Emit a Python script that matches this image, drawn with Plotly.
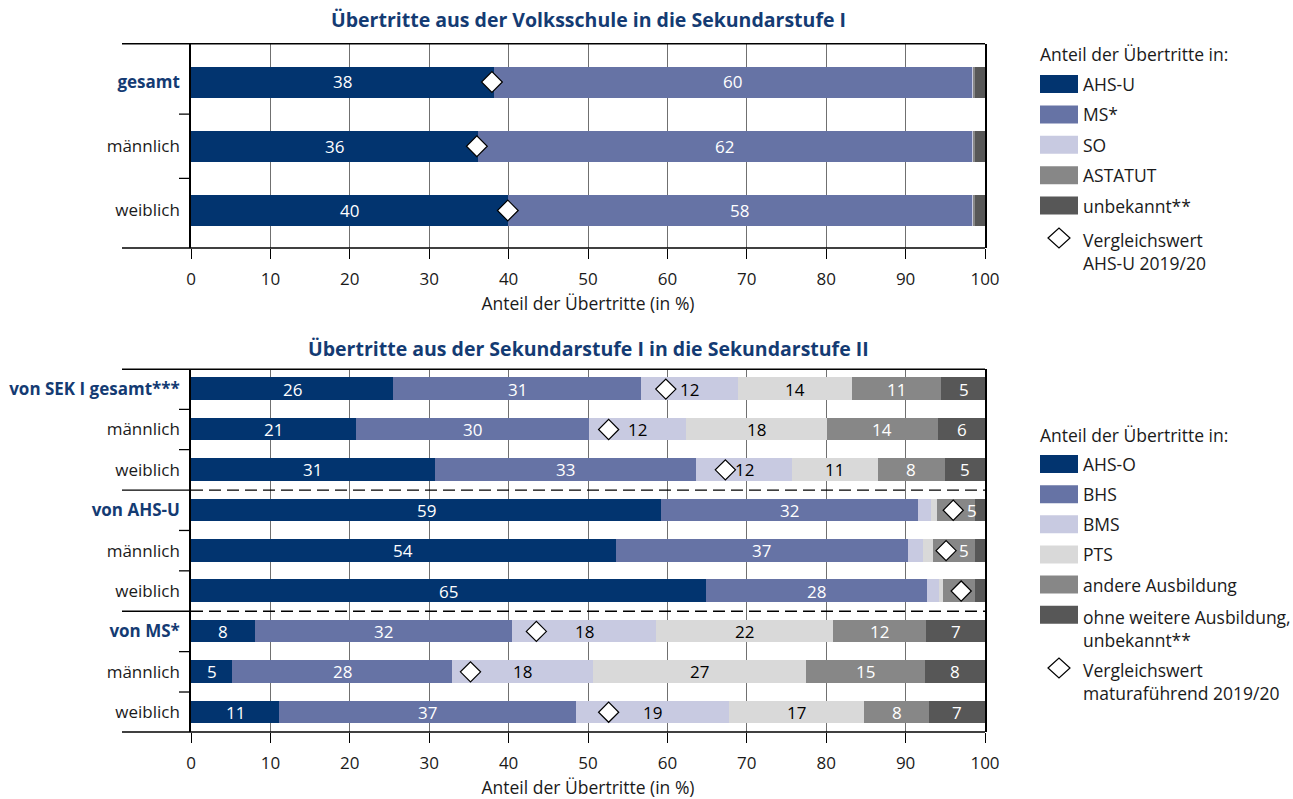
import plotly.graph_objects as go

# ---------------- data ----------------
cats_top = ["gesamt", "männlich", "weiblich"]
cats_top_bold = [True, False, False]
ahs_u = [38.1, 36.2, 39.9]
ms = [60.2, 62.1, 58.4]
so = [0.3, 0.3, 0.3]
astatut = [0.15, 0.15, 0.15]
unbekannt = [1.25, 1.25, 1.25]
ahs_u_lbl = ["38", "36", "40"]
ms_lbl = ["60", "62", "58"]
empty3 = ["", "", ""]
vergleich_top = [37.9, 36.0, 39.9]

cats_bot = ["von SEK I gesamt***", "männlich", "weiblich",
            "von AHS-U", "männlich", "weiblich",
            "von MS*", "männlich", "weiblich"]
cats_bot_bold = [True, False, False, True, False, False, True, False, False]
ahs_o = [25.5, 20.75, 30.7, 59.2, 53.5, 64.8, 8.1, 5.2, 11.1]
bhs = [31.2, 29.4, 32.9, 32.4, 36.8, 27.9, 32.3, 27.7, 37.4]
bms = [12.2, 12.2, 12.1, 1.6, 1.9, 1.45, 18.2, 17.7, 19.2]
pts = [14.4, 17.7, 10.8, 0.7, 1.2, 0.5, 22.3, 26.8, 17.1]
andere = [11.2, 14.0, 8.4, 4.9, 5.4, 4.1, 11.7, 15.0, 8.2]
ohne = [5.6, 6.0, 5.1, 1.2, 1.2, 1.2, 7.4, 7.6, 7.0]
ahs_o_lbl = ["26", "21", "31", "59", "54", "65", "8", "5", "11"]
bhs_lbl = ["31", "30", "33", "32", "37", "28", "32", "28", "37"]
bms_lbl = ["12", "12", "12", "", "", "", "18", "18", "19"]
pts_lbl = ["14", "18", "11", "", "", "", "22", "27", "17"]
andere_lbl = ["11", "14", "8", "5", "5", "", "12", "15", "8"]
ohne_lbl = ["5", "6", "5", "", "", "", "7", "8", "7"]
vergleich_bot = [59.8, 52.6, 67.3, 96.0, 95.1, 97.0, 43.5, 35.2, 52.6]

x_ticks = [0, 10, 20, 30, 40, 50, 60, 70, 80, 90, 100]
title_top = "Übertritte aus der Volksschule in die Sekundarstufe I"
title_bot = "Übertritte aus der Sekundarstufe I in die Sekundarstufe II"
axis_title = "Anteil der Übertritte (in %)"
legend_title = "Anteil der Übertritte in:"
legend_top = ["AHS-U", "MS*", "SO", "ASTATUT", "unbekannt**"]
legend_top_diamond = "Vergleichswert<br>AHS-U 2019/20"
legend_bot = ["AHS-O", "BHS", "BMS", "PTS", "andere Ausbildung",
              "ohne weitere Ausbildung,<br>unbekannt**"]
legend_bot_diamond = "Vergleichswert<br>maturaführend 2019/20"

# ---------------- style ----------------
W, H = 1293, 799
FONT = "'Open Sans', Lato, sans-serif"
NAVY_TXT = "#143b73"
TXT = "#1a1a1a"
C_NAVY = "#02346f"
C_MID = "#6673a5"
C_LIGHT = "#c8cae1"
C_PTS = "#d9d9d9"
C_GREY = "#878787"
C_DARK = "#575757"
colors_top = [C_NAVY, C_MID, C_LIGHT, C_GREY, C_DARK]
colors_bot = [C_NAVY, C_MID, C_LIGHT, C_PTS, C_GREY, C_DARK]
txtcol_bot = ["white", "white", "black", "black", "white", "white"]
txtcol_top = ["white", "white", "black", "white", "white"]

PX0, PX1 = 191, 985          # plot x extent (px)
LEFT_EXT = 122               # left end of box lines (px)
TOP_Y0, TOP_Y1 = 43.7, 248   # top chart domain (px from top)
BOT_Y0, BOT_Y1 = 369.3, 732  # bottom chart domain


def px(x):
    return x / W


def py(y):
    return 1 - y / H


fig = go.Figure()

# ---------------- bars ----------------
series_top = [ahs_u, ms, so, astatut, unbekannt]
labels_top = [ahs_u_lbl, ms_lbl, empty3, empty3, empty3]
ytop = list(range(len(cats_top)))
for vals, col, name in zip(series_top, colors_top, legend_top):
    fig.add_trace(go.Bar(x=vals, y=ytop, orientation="h", marker=dict(color=col, line=dict(width=0)),
                         width=0.48, name=name, showlegend=False, xaxis="x", yaxis="y",
                         hoverinfo="x+name"))

series_bot = [ahs_o, bhs, bms, pts, andere, ohne]
labels_bot = [ahs_o_lbl, bhs_lbl, bms_lbl, pts_lbl, andere_lbl, ohne_lbl]
ybot = list(range(len(cats_bot)))
for vals, col, name in zip(series_bot, colors_bot, legend_bot):
    fig.add_trace(go.Bar(x=vals, y=ybot, orientation="h", marker=dict(color=col, line=dict(width=0)),
                         width=0.56, name=name.replace("<br>", " "), showlegend=False,
                         xaxis="x2", yaxis="y2", hoverinfo="x+name"))

# diamonds
fig.add_trace(go.Scatter(x=vergleich_top, y=ytop, mode="markers", xaxis="x", yaxis="y",
                         marker=dict(symbol="diamond", size=16, color="white",
                                     line=dict(color="black", width=1.2)),
                         showlegend=False, hoverinfo="x"))
fig.add_trace(go.Scatter(x=vergleich_bot, y=ybot, mode="markers", xaxis="x2", yaxis="y2",
                         marker=dict(symbol="diamond", size=15.5, color="white",
                                     line=dict(color="black", width=1.2)),
                         showlegend=False, hoverinfo="x"))

annotations = []


def add_segment_labels(series, labels, txtcols, diamonds, xref, yref):
    n = len(series[0])
    for r in range(n):
        cum = 0.0
        for s, (vals, lbls) in enumerate(zip(series, labels)):
            start, end = cum, cum + vals[r]
            cum = end
            t = lbls[r]
            if not t:
                continue
            xm = (start + end) / 2
            d = diamonds[r]
            if start < d < end - 1.5:
                xm = max(xm, d + 2.3)
            annotations.append(dict(x=xm, y=r, xref=xref, yref=yref, text=t, showarrow=False,
                                    font=dict(family=FONT, size=17, color=txtcols[s]),
                                    xanchor="center", yanchor="middle"))


add_segment_labels(series_top, labels_top, txtcol_top, vergleich_top, "x", "y")
add_segment_labels(series_bot, labels_bot, txtcol_bot, vergleich_bot, "x2", "y2")


def cat_text(labels, bold):
    out = []
    for l, b in zip(labels, bold):
        out.append(f"<span style='color:{NAVY_TXT}'><b>{l}</b></span>" if b else l)
    return out


# ---------------- axes ----------------
xcommon = dict(range=[0, 100], tickmode="array", tickvals=x_ticks, ticks="outside", ticklen=10,
               tickwidth=1.2, tickcolor="black", showgrid=True, gridcolor="#707070", gridwidth=1,
               zeroline=False, showline=False, fixedrange=True, automargin=False,
               ticklabelstandoff=6,
               tickfont=dict(family=FONT, size=17, color=TXT),
               domain=[px(PX0), px(PX1)])
ycommon = dict(tickmode="array", ticks="outside", ticklen=6, tickcolor="rgba(0,0,0,0)",
               showgrid=False, zeroline=False, showline=True, mirror=True, linecolor="black",
               linewidth=1.5, fixedrange=True, automargin=False,
               tickfont=dict(family=FONT, size=17, color=TXT))

fig.update_layout(
    xaxis=dict(**xcommon, anchor="y",
               title=dict(text=axis_title, font=dict(family=FONT, size=17.5, color=TXT), standoff=8)),
    yaxis=dict(**ycommon, anchor="x", range=[2.584, -0.596], tickvals=ytop,
               ticktext=cat_text(cats_top, cats_top_bold), domain=[py(TOP_Y1), py(TOP_Y0)]),
    xaxis2=dict(**xcommon, anchor="y2",
                title=dict(text=axis_title, font=dict(family=FONT, size=17.5, color=TXT), standoff=9)),
    yaxis2=dict(**ycommon, anchor="x2", range=[8.49, -0.49], tickvals=ybot,
                ticktext=cat_text(cats_bot, cats_bot_bold), domain=[py(BOT_Y1), py(BOT_Y0)]),
)

shapes = []
# box top/bottom lines extending left
for yr in ["y domain", "y2 domain"]:
    for yv in [0, 1]:
        shapes.append(dict(type="line", xref="paper", yref=yr, x0=px(LEFT_EXT), x1=px(PX1),
                           y0=yv, y1=yv, line=dict(color="black", width=1.5)))
# boundary ticks
for b in [0.5, 1.5]:
    shapes.append(dict(type="line", xref="paper", yref="y", x0=px(PX0 - 12), x1=px(PX0),
                       y0=b, y1=b, line=dict(color="black", width=1.3)))
for g in range(3):
    for k in [0.5, 1.5]:
        b = g * 3 + k
        shapes.append(dict(type="line", xref="paper", yref="y2", x0=px(PX0 - 12), x1=px(PX0),
                           y0=b, y1=b, line=dict(color="black", width=1.3)))
# group separators
for b in [2.5, 5.5]:
    shapes.append(dict(type="line", xref="paper", yref="y2", x0=px(LEFT_EXT), x1=px(PX0),
                       y0=b, y1=b, line=dict(color="black", width=1.3)))
    shapes.append(dict(type="line", xref="x2", yref="y2", x0=0, x1=100,
                       y0=b, y1=b, line=dict(color="black", width=1.3, dash="12px,6px")))

# titles
for t, yy in [(title_top, 20), (title_bot, 349)]:
    annotations.append(dict(x=px((PX0 + PX1) / 2), y=py(yy), xref="paper", yref="paper", text=f"<b>{t}</b>",
                            showarrow=False, xanchor="center", yanchor="middle",
                            font=dict(family=FONT, size=19.5, color=NAVY_TXT)))

LEG_FS = 17.5


def add_legend(title_y, first_y, step, names, cols, diamond_y, diamond_text):
    annotations.append(dict(x=px(1038), y=py(title_y), xref="paper", yref="paper", text=legend_title,
                            showarrow=False, xanchor="left", yanchor="middle",
                            font=dict(family=FONT, size=LEG_FS, color=TXT)))
    for i, (nm, c) in enumerate(zip(names, cols)):
        cy = first_y + i * step
        shapes.append(dict(type="rect", xref="paper", yref="paper", x0=px(1040), x1=px(1078),
                           y0=py(cy - 9), y1=py(cy + 9), fillcolor=c, line=dict(width=0)))
        multi = "<br>" in nm
        annotations.append(dict(x=px(1081), y=py(cy - 12 if multi else cy), xref="paper", yref="paper",
                                text=nm, showarrow=False, xanchor="left",
                                yanchor="top" if multi else "middle", align="left",
                                font=dict(family=FONT, size=LEG_FS, color=TXT)))
    cx, cy = 1059, diamond_y
    path = (f"M {px(cx - 11)},{py(cy)} L {px(cx)},{py(cy - 10)} L {px(cx + 11)},{py(cy)} "
            f"L {px(cx)},{py(cy + 10)} Z")
    shapes.append(dict(type="path", xref="paper", yref="paper", path=path, fillcolor="white",
                       line=dict(color="black", width=1.2)))
    annotations.append(dict(x=px(1081), y=py(cy - 12), xref="paper", yref="paper", text=diamond_text,
                            showarrow=False, xanchor="left", yanchor="top", align="left",
                            font=dict(family=FONT, size=LEG_FS, color=TXT)))


add_legend(54, 84, 30.4, legend_top, colors_top, 238, legend_top_diamond)
add_legend(435, 464, 30.15, legend_bot, colors_bot, 668, legend_bot_diamond)

fig.update_layout(
    width=W, height=H, autosize=False,
    margin=dict(l=0, r=0, t=0, b=0, autoexpand=False),
    paper_bgcolor="white", plot_bgcolor="white",
    barmode="stack", bargap=0,
    showlegend=False,
    shapes=shapes, annotations=annotations,
    font=dict(family=FONT, size=16, color=TXT),
)

fig.write_html("out.html", config={"displayModeBar": False},
               post_script="document.body.style.margin='0';document.body.style.overflow='hidden';")
